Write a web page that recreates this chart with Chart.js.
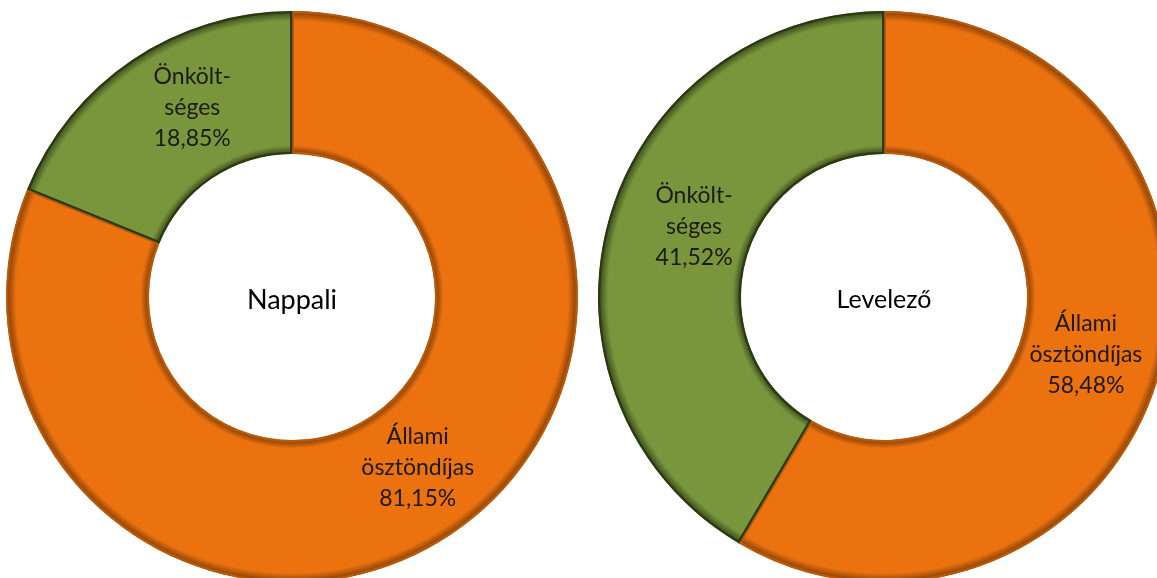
<!DOCTYPE html>
<html>
<head>
<meta charset="utf-8">
<script src="https://cdn.jsdelivr.net/npm/chart.js@4/dist/chart.umd.min.js"></script>
<style>
  html, body { margin: 0; padding: 0; width: 1157px; height: 578px; overflow: hidden; background: #ffffff; }
  canvas { position: absolute; }
  #c1 { left: 6px; top: 11px; }
  #c2 { left: 598px; top: 11px; }
</style>
</head>
<body>
<canvas id="c1" width="572" height="572"></canvas>
<canvas id="c2" width="572" height="572"></canvas>
<script>
// ---- data ----
const categories = ["Állami ösztöndíjas", "Önköltséges"];
const labelLines = [["Állami", "ösztöndíjas"], ["Önkölt-", "séges"]];
const nappaliValues = [81.15, 18.85];
const levelezoValues = [58.48, 41.52];
const centerTitles = ["Nappali", "Levelező"];

const baseColors = ["#EC7210", "#79963C"];
const edgeColors = ["#7a3a04", "#34431a"];
const lineColors = ["#b85a0a", "#2c3a12"];

function fmt(v) { return v.toFixed(2).replace(".", ",") + "%"; }

function bevelFill(ctx) {
  const chart = ctx.chart;
  const area = chart.chartArea;
  const i = ctx.dataIndex;
  if (!area) return baseColors[i];
  const cx = (area.left + area.right) / 2, cy = (area.top + area.bottom) / 2;
  const outer = Math.min(area.right - area.left, area.bottom - area.top) / 2;
  const inner = outer * 0.5;
  const g = chart.ctx.createRadialGradient(cx, cy, inner, cx, cy, outer);
  g.addColorStop(0, edgeColors[i]);
  g.addColorStop(0.06, baseColors[i]);
  g.addColorStop(0.93, baseColors[i]);
  g.addColorStop(1, edgeColors[i]);
  return g;
}

const labelPlugin = {
  id: "sliceLabels",
  afterDatasetsDraw(chart, args, opts) {
    const c = chart.ctx;
    const meta = chart.getDatasetMeta(0);
    const ds = chart.data.datasets[0];
    c.save();
    c.textAlign = "center";
    c.textBaseline = "middle";
    c.fillStyle = "#1c1a16";
    c.font = "23px Lato, 'Open Sans', sans-serif";
    meta.data.forEach((arc, i) => {
      const p = arc.tooltipPosition();
      const off = (opts.offsets && opts.offsets[i]) || [0, 0];
      const lines = labelLines[i].concat([fmt(ds.data[i])]);
      const lh = 31;
      const y0 = p.y + off[1] - lh * (lines.length - 1) / 2;
      lines.forEach((t, k) => c.fillText(t, p.x + off[0], y0 + k * lh));
    });
    // centre title
    const a = chart.chartArea;
    c.fillStyle = "#000000";
    c.font = opts.titleFont;
    c.fillText(opts.title, (a.left + a.right) / 2, (a.top + a.bottom) / 2 + (opts.titleDy || 0));
    c.restore();
  }
};

function makeChart(id, values, title, titleFont, offsets) {
  return new Chart(document.getElementById(id), {
    type: "doughnut",
    data: {
      labels: categories,
      datasets: [{
        data: values,
        backgroundColor: bevelFill,
        borderColor: lineColors,
        borderWidth: 2,
        borderAlign: "inner",
        hoverOffset: 0
      }]
    },
    options: {
      responsive: false,
      animation: false,
      cutout: "50%",
      rotation: 0,
      layout: { padding: 0 },
      events: [],
      plugins: {
        legend: { display: false },
        tooltip: { enabled: false },
        sliceLabels: { title: title, titleFont: titleFont, titleDy: 3, offsets: offsets }
      }
    },
    plugins: [labelPlugin]
  });
}

makeChart("c1", nappaliValues, centerTitles[0], "27px Lato, 'Open Sans', sans-serif", [[6, -7], [20, -11]]);
makeChart("c2", levelezoValues, centerTitles[1], "25px Lato, 'Open Sans', sans-serif", [[-5, 1], [17, -14]]);
</script>
</body>
</html>
